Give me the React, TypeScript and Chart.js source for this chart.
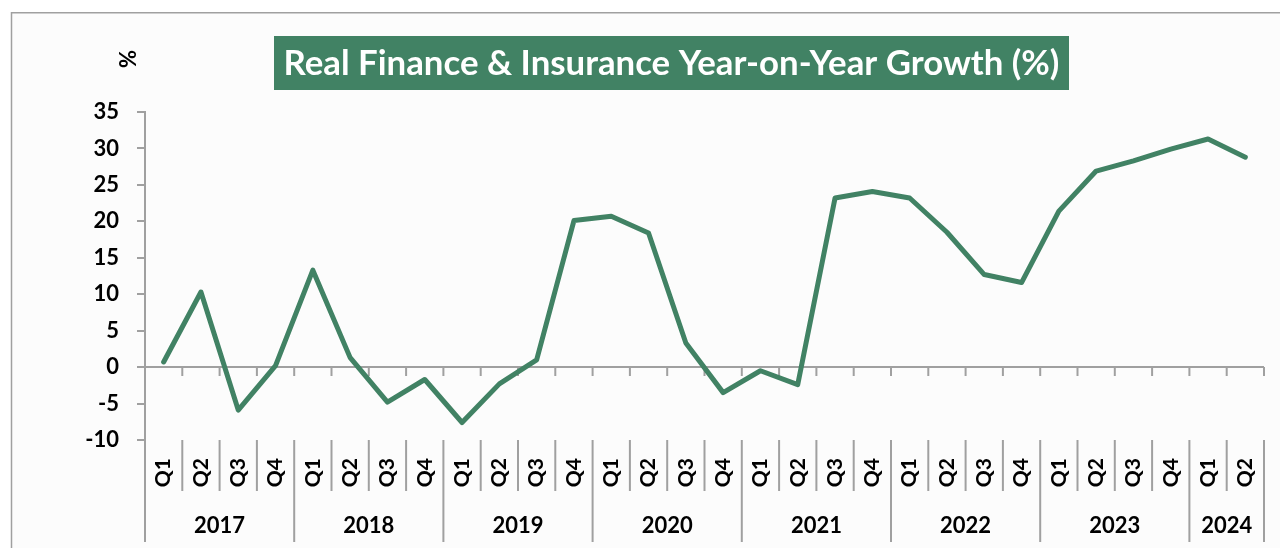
import { useEffect, useRef } from "react";
import { Chart, registerables } from "chart.js";

Chart.register(...registerables);

const TITLE = "Real Finance & Insurance Year-on-Year Growth (%)";
const Y_UNIT = "%";
const YEARS = ["2017", "2018", "2019", "2020", "2021", "2022", "2023", "2024"];
const QUARTERS_PER_YEAR = [4, 4, 4, 4, 4, 4, 4, 2];
const QUARTER_NAMES = ["Q1", "Q2", "Q3", "Q4"];
const GROWTH = [
  0.7, 10.3, -5.9, 0.2,
  13.3, 1.3, -4.8, -1.7,
  -7.6, -2.3, 1.0, 20.1,
  20.7, 18.4, 3.3, -3.5,
  -0.5, -2.4, 23.2, 24.1,
  23.2, 18.5, 12.7, 11.6,
  21.4, 26.9, 28.3, 29.9,
  31.3, 28.8,
];
const Y_MIN = -10;
const Y_MAX = 35;
const Y_STEP = 5;

const GREEN = "#418264";
const AXIS = "#a0a0a0";
const FONT = "Lato";

const LABELS: string[] = YEARS.flatMap((_, i) => QUARTER_NAMES.slice(0, QUARTERS_PER_YEAR[i]));

const decor = {
  id: "decor",
  beforeDraw(chart: any) {
    const ctx = chart.ctx as CanvasRenderingContext2D;
    ctx.save();
    ctx.fillStyle = "#fcfcfc";
    ctx.fillRect(12, 13, 1268, 535);
    ctx.strokeStyle = AXIS;
    ctx.lineWidth = 1.5;
    ctx.beginPath();
    ctx.moveTo(11.5, 548);
    ctx.lineTo(11.5, 12.75);
    ctx.lineTo(1280, 12.75);
    ctx.stroke();
    ctx.restore();
  },
  beforeDatasetsDraw(chart: any) {
    const ctx = chart.ctx as CanvasRenderingContext2D;
    const { left, right } = chart.chartArea;
    const y0 = chart.scales.y.getPixelForValue(0);
    const n = LABELS.length;
    ctx.save();
    ctx.strokeStyle = AXIS;
    ctx.lineWidth = 2;
    ctx.beginPath();
    ctx.moveTo(left, y0);
    ctx.lineTo(right, y0);
    for (let k = 1; k <= n; k++) {
      const x = left + ((right - left) * k) / n;
      ctx.moveTo(x, y0);
      ctx.lineTo(x, y0 + 9);
    }
    ctx.stroke();
    ctx.restore();
  },
  afterDraw(chart: any) {
    const ctx = chart.ctx as CanvasRenderingContext2D;
    const { left, right, bottom } = chart.chartArea;
    const n = LABELS.length;
    const bx = (k: number) => left + ((right - left) * k) / n;
    ctx.save();
    ctx.strokeStyle = AXIS;
    ctx.lineWidth = 2;
    ctx.beginPath();
    const yearStarts = new Set<number>();
    let acc = 0;
    yearStarts.add(0);
    QUARTERS_PER_YEAR.forEach((q) => {
      acc += q;
      yearStarts.add(acc);
    });
    for (let k = 0; k <= n; k++) {
      const x = bx(k);
      ctx.moveTo(x, bottom);
      ctx.lineTo(x, yearStarts.has(k) ? bottom + 102 : bottom + 51);
    }
    ctx.stroke();
    ctx.fillStyle = "#000";
    ctx.font = `bold 22px ${FONT}`;
    ctx.textAlign = "center";
    ctx.textBaseline = "middle";
    acc = 0;
    YEARS.forEach((yr, i) => {
      const a = bx(acc);
      acc += QUARTERS_PER_YEAR[i];
      const b = bx(acc);
      ctx.fillText(yr, (a + b) / 2, bottom + 86);
    });
    ctx.save();
    ctx.translate(129, 59);
    ctx.rotate(-Math.PI / 2);
    ctx.fillText(Y_UNIT, 0, 0);
    ctx.restore();
    const boxL = 274, boxR = 1069, boxT = 36, boxB = 90;
    ctx.fillStyle = GREEN;
    ctx.fillRect(boxL, boxT, boxR - boxL, boxB - boxT);
    let size = 30;
    ctx.font = `bold ${size}px ${FONT}`;
    const w = ctx.measureText(TITLE).width;
    size = Math.min(38, size * (776 / w));
    ctx.font = `bold ${size}px ${FONT}`;
    ctx.fillStyle = "#ffffff";
    ctx.fillText(TITLE, (boxL + boxR) / 2, (boxT + boxB) / 2 + 1);
    ctx.restore();
  },
};

export default function App() {
  const ref = useRef<HTMLCanvasElement | null>(null);
  useEffect(() => {
    if (!ref.current) return;
    const chart = new Chart(ref.current, {
      type: "line",
      data: {
        labels: LABELS,
        datasets: [
          {
            data: GROWTH,
            borderColor: GREEN,
            backgroundColor: GREEN,
            borderWidth: 5,
            pointRadius: 0,
            pointHoverRadius: 0,
            tension: 0,
            borderCapStyle: "round",
            borderJoinStyle: "round",
          },
        ],
      },
      options: {
        responsive: false,
        animation: false,
        devicePixelRatio: 1,
        layout: { padding: { top: 112, right: 16, left: 0, bottom: 0 } },
        plugins: { legend: { display: false }, tooltip: { enabled: false }, title: { display: false } },
        scales: {
          x: {
            type: "category",
            offset: true,
            grid: { display: false, drawTicks: false },
            border: { display: false },
            ticks: {
              autoSkip: false,
              minRotation: 90,
              maxRotation: 90,
              padding: 18,
              color: "#000",
              font: { family: FONT, weight: "bold", size: 21 },
            },
            afterFit(s: any) {
              s.height = 108;
              s.paddingLeft = 0;
              s.paddingRight = 0;
            },
          },
          y: {
            min: Y_MIN,
            max: Y_MAX,
            ticks: {
              stepSize: Y_STEP,
              padding: 18,
              color: "#000",
              font: { family: FONT, weight: "bold", size: 22 },
            },
            grid: { drawOnChartArea: false, drawTicks: true, tickLength: 8, color: AXIS, lineWidth: 2 },
            border: { color: AXIS, width: 2 },
            afterFit(s: any) {
              s.width = 145;
              s.paddingTop = 0;
              s.paddingBottom = 0;
            },
          },
        },
      },
      plugins: [decor],
    } as any);
    (document as any).fonts?.load?.(`bold 21px ${FONT}`).then(() => chart.update()).catch(() => {});
    return () => chart.destroy();
  }, []);
  return (
    <div style={{ position: "absolute", left: 0, top: 0, width: 1280, height: 548 }}>
      <canvas ref={ref} width={1280} height={548} style={{ display: "block" }} />
    </div>
  );
}
